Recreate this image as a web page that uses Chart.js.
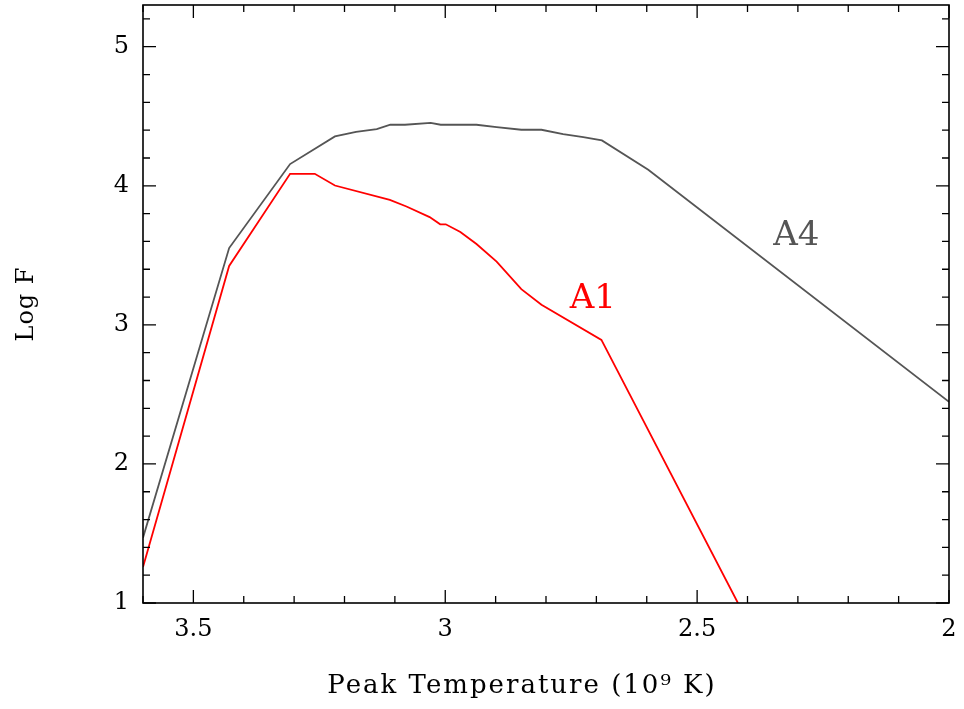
<!DOCTYPE html>
<html>
<head>
<meta charset="utf-8">
<script src="https://cdn.jsdelivr.net/npm/chart.js@4.4.0/dist/chart.umd.min.js"></script>
<style>
  html, body { margin: 0; padding: 0; background: #fff; }
  #wrap { width: 964px; height: 709px; }
</style>
</head>
<body>
<div id="wrap"><canvas id="chart" width="964" height="709"></canvas></div>
<script>
/* ── Data ────────────────────────────────────────────────────────────── */
const a4Temp = [3.600, 3.429, 3.308, 3.219, 3.177, 3.136, 3.109, 3.080, 3.029, 3.009,
                2.938, 2.898, 2.849, 2.809, 2.766, 2.726, 2.689, 2.597, 2.000];
const a4LogF = [1.47, 3.552, 4.156, 4.355, 4.388, 4.408, 4.439, 4.439, 4.453, 4.439,
                4.439, 4.422, 4.403, 4.403, 4.372, 4.350, 4.326, 4.115, 2.446];

const a1Temp = [3.600, 3.429, 3.308, 3.259, 3.219, 3.110, 3.077, 3.031, 3.010, 2.999,
                2.970, 2.938, 2.898, 2.849, 2.809, 2.690, 2.419];
const a1LogF = [1.259, 3.424, 4.086, 4.086, 4.002, 3.899, 3.851, 3.775, 3.723, 3.723,
                3.668, 3.581, 3.455, 3.257, 3.144, 2.892, 1.0];

const xTicks = [3.5, 3, 2.5, 2];
const yTicks = [1, 2, 3, 4, 5];

const seriesNames  = ['A1', 'A4'];
const seriesColors = ['#ff0000', '#555555'];
const labelTemp    = [2.707, 2.303];
const labelLogF    = [3.187, 3.637];

const X_MIN = 2.0, X_MAX = 3.6;
const Y_MIN = 1.0, Y_MAX = 5.3;

const FONT = '"DejaVu Serif", "Liberation Serif", serif';

/* ── Frame, inward ticks, labels and axis titles ─────────────────────── */
const decorations = {
  id: 'decorations',
  afterDatasetsDraw(chart) {
    const { ctx, chartArea: a, scales: { x, y } } = chart;
    ctx.save();

    // box
    ctx.strokeStyle = '#000';
    ctx.lineWidth = 1.6;
    ctx.strokeRect(a.left, a.top, a.right - a.left, a.bottom - a.top);

    // ticks on all four sides (minor every 0.1 / 0.2)
    ctx.lineWidth = 1.3;
    ctx.beginPath();
    for (let i = 20; i <= 36; i++) {
      const px = x.getPixelForValue(i / 10);
      const len = i % 5 === 0 ? 13 : 7;
      ctx.moveTo(px, a.bottom); ctx.lineTo(px, a.bottom - len);
      ctx.moveTo(px, a.top);    ctx.lineTo(px, a.top + len);
    }
    for (let i = 5; i <= 26; i++) {
      const py = y.getPixelForValue(i / 5);
      const len = i % 5 === 0 ? 13 : 7;
      ctx.moveTo(a.left, py);  ctx.lineTo(a.left + len, py);
      ctx.moveTo(a.right, py); ctx.lineTo(a.right - len, py);
    }
    ctx.stroke();

    // series labels
    ctx.font = '34px ' + FONT;
    ctx.textAlign = 'center';
    ctx.textBaseline = 'middle';
    seriesNames.forEach((name, i) => {
      ctx.fillStyle = seriesColors[i];
      ctx.fillText(name, x.getPixelForValue(labelTemp[i]), y.getPixelForValue(labelLogF[i]));
    });

    // axis titles
    ctx.fillStyle = '#000';
    ctx.font = '26px ' + FONT;
    ctx.letterSpacing = '2px';
    ctx.fillText('Peak Temperature (10\u2079 K)', (a.left + a.right) / 2 - 24, 686);

    ctx.font = '24px ' + FONT;
    ctx.letterSpacing = '1px';
    ctx.translate(27, (a.top + a.bottom) / 2);
    ctx.rotate(-Math.PI / 2);
    ctx.fillText('Log F', 0, 0);

    ctx.restore();
  },
};

/* ── Chart ───────────────────────────────────────────────────────────── */
const toPoints = (xs, ys) => xs.map((v, i) => ({ x: v, y: ys[i] }));

new Chart(document.getElementById('chart').getContext('2d'), {
  type: 'line',
  data: {
    datasets: [
      {
        label: 'A4',
        data: toPoints(a4Temp, a4LogF),
        borderColor: seriesColors[1],
        borderWidth: 1.8,
        pointRadius: 0,
        tension: 0,
        fill: false,
      },
      {
        label: 'A1',
        data: toPoints(a1Temp, a1LogF),
        borderColor: seriesColors[0],
        borderWidth: 1.8,
        pointRadius: 0,
        tension: 0,
        fill: false,
      },
    ],
  },
  options: {
    responsive: false,
    animation: false,
    devicePixelRatio: 1,
    layout: { padding: { left: 0, right: 15, top: 5, bottom: 0 } },
    plugins: { legend: { display: false }, tooltip: { enabled: false } },
    scales: {
      x: {
        type: 'linear',
        reverse: true,
        min: X_MIN,
        max: X_MAX,
        grid: { display: false, drawTicks: false },
        border: { display: false },
        afterBuildTicks: (s) => { s.ticks = xTicks.map(v => ({ value: v })); },
        afterFit: (s) => {
          s.height = 106;
          s.paddingLeft = 0; s.paddingRight = 0;
          s.paddingTop = 0;  s.paddingBottom = 0;
        },
        ticks: {
          color: '#000',
          padding: 12,
          maxRotation: 0,
          font: { family: FONT, size: 24 },
          callback: (v) => String(v),
        },
      },
      y: {
        type: 'linear',
        min: Y_MIN,
        max: Y_MAX,
        grid: { display: false, drawTicks: false },
        border: { display: false },
        afterBuildTicks: (s) => { s.ticks = yTicks.map(v => ({ value: v })); },
        afterFit: (s) => {
          s.width = 143;
          s.paddingLeft = 0; s.paddingRight = 0;
          s.paddingTop = 0;  s.paddingBottom = 0;
        },
        ticks: {
          color: '#000',
          padding: 14,
          font: { family: FONT, size: 24 },
          callback: (v) => String(v),
        },
      },
    },
  },
  plugins: [decorations],
});
</script>
</body>
</html>
